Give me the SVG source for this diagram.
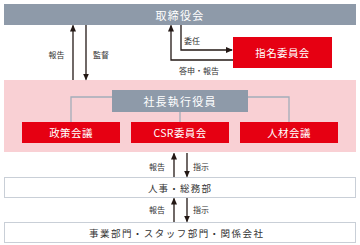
<svg xmlns="http://www.w3.org/2000/svg" width="360" height="245" viewBox="0 0 360 245">
<style>
text{font-family:"Noto Sans CJK JP","Noto Sans",sans-serif;text-anchor:middle;dominant-baseline:central}
.gray{fill:#8e9aa9}
.red{fill:#e60012}
.wt{fill:#fff}
.big{font-size:11px;letter-spacing:1.2px}
.mid{font-size:10.5px;letter-spacing:0.4px}
.sm{font-size:8px;fill:#333}
.box{fill:#fff;stroke:#c9cfd7;stroke-width:1}
.dk{fill:#333;font-size:9.5px}
.arr{stroke:#231815;stroke-width:1.3;fill:none}
.con{stroke:#a3adb9;stroke-width:1.3;fill:none}
</style>
<defs>
<marker id="ah" markerWidth="7" markerHeight="6" refX="6" refY="3" orient="auto" markerUnits="userSpaceOnUse">
<path d="M0,0 L7,3 L0,6 z" fill="#231815"/>
</marker>
</defs>
<rect x="4" y="80" width="352" height="72" fill="#f9d0d4"/>
<g id="board"><rect class="gray" x="4" y="4" width="352" height="21"/><text class="wt big" x="180" y="15">取締役会</text></g>
<g id="nomination"><rect class="red" x="233" y="37" width="99" height="31"/><text class="wt mid" x="282.5" y="52.5">指名委員会</text></g>
<g id="executives"><rect class="gray" x="112" y="90" width="136" height="22"/><text class="wt big" x="180" y="101">社長執行役員</text></g>
<g id="policy"><rect class="red" x="22" y="122" width="98" height="21"/><text class="wt mid" x="71" y="132.5">政策会議</text></g>
<g id="csr"><rect class="red" x="131" y="122" width="98" height="21"/><text class="wt mid" x="180" y="132.5">CSR委員会</text></g>
<g id="hr"><rect class="red" x="240" y="122" width="98" height="21"/><text class="wt mid" x="289" y="132.5">人材会議</text></g>
<g id="general"><rect class="box" x="4.5" y="177.5" width="351" height="20"/><text class="dk" x="180" y="187.5" letter-spacing="1.2">人事・総務部</text></g>
<g id="divisions"><rect class="box" x="4.5" y="222.5" width="351" height="20"/><text class="dk" x="176" y="232.5" textLength="174" lengthAdjust="spacing">事業部門・スタッフ部門・関係会社</text></g>
<g id="connectors">
<path class="con" d="M112,97 H71 V122 M248,97 H289 V122 M180,112 V122"/>
<line class="arr" x1="73" y1="80" x2="73" y2="25.5" marker-end="url(#ah)"/>
<line class="arr" x1="86" y1="25" x2="86" y2="79.5" marker-end="url(#ah)"/>
<path class="arr" d="M233,60 H171 V25.5" marker-end="url(#ah)"/>
<path class="arr" d="M181,25 V50 H232" marker-end="url(#ah)"/>
<line class="arr" x1="174" y1="177" x2="174" y2="153.5" marker-end="url(#ah)"/>
<line class="arr" x1="187" y1="153" x2="187" y2="176.5" marker-end="url(#ah)"/>
<line class="arr" x1="174" y1="222" x2="174" y2="198.5" marker-end="url(#ah)"/>
<line class="arr" x1="187" y1="198" x2="187" y2="221.5" marker-end="url(#ah)"/>
<text class="sm" x="56.5" y="54">報告</text>
<text class="sm" x="101" y="54">監督</text>
<text class="sm" x="192" y="40">委任</text>
<text class="sm" x="199" y="70">答申・報告</text>
<text class="sm" x="157" y="166">報告</text>
<text class="sm" x="201" y="166">指示</text>
<text class="sm" x="157" y="209">報告</text>
<text class="sm" x="201" y="209">指示</text>
</g>
</svg>
